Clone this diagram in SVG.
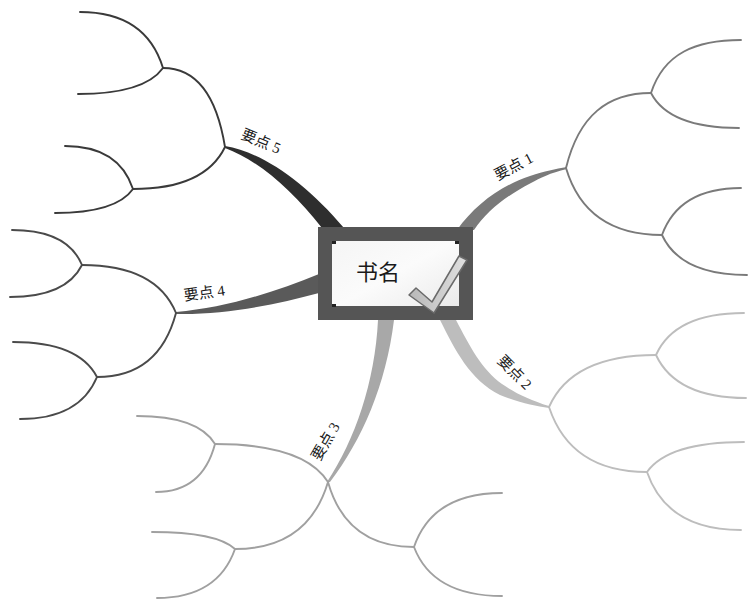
<svg xmlns="http://www.w3.org/2000/svg" width="748" height="601" viewBox="0 0 748 601">
<defs>
<linearGradient id="inner" x1="0" y1="0" x2="1" y2="1">
<stop offset="0" stop-color="#f4f4f4"/>
<stop offset="0.5" stop-color="#fbfbfb"/>
<stop offset="1" stop-color="#e8e8e8"/>
</linearGradient>
<linearGradient id="chk" x1="0" y1="0" x2="1" y2="0">
<stop offset="0" stop-color="#b8b8b8"/>
<stop offset="1" stop-color="#e0e0e0"/>
</linearGradient>
</defs>
<style>
.t{fill:none;stroke-width:1.9;stroke-linecap:round}
.b5{stroke:#3a3a3a}.b4{stroke:#4a4a4a}.b3{stroke:#a0a0a0}.b2{stroke:#bdbdbd}.b1{stroke:#7a7a7a}
.lbl{font-family:"Liberation Serif","Noto Sans CJK SC",serif;font-size:15px;fill:#1a1a1a;text-anchor:middle}
</style>
<rect width="748" height="601" fill="#ffffff"/>
<g id="connectors">
<path d="M225,146 C262,152 305,182 344,228 L322,228 C292,190 258,160 225,148 Z" fill="#2e2e2e"/>
<path d="M176,312 C225,308 275,292 319,274 L319,293 C275,305 225,315 176,314 Z" fill="#5a5a5a"/>
<path d="M378,320 C375,382 355,440 327,482 L330,482 C362,440 386,385 394,320 Z" fill="#a8a8a8"/>
<path d="M440,320 C455,350 470,380 500,395 C520,403 535,406 549,408 L549,406 C530,400 515,393 502,384 C482,370 469,345 456,320 Z" fill="#bdbdbd"/>
<path d="M457,230 C475,205 500,186 530,176 C545,171 555,169 567,167 L567,169 C550,173 540,178 531,183 C506,196 487,211 474,230 Z" fill="#7a7a7a"/>
<path class="t b5" d="M225,147 C216,92 194,68 163,68"/>
<path class="t b5" d="M225,147 C211,176 179,189 133,189"/>
<path class="t b5" d="M163,68 C151,29 122,12 80,12"/>
<path class="t b5" d="M163,68 C150,86 120,94 78,94"/>
<path class="t b5" d="M133,189 C123,159 99,146 65,146"/>
<path class="t b5" d="M133,189 C121,206 94,213 55,213"/>
<path class="t b4" d="M176,313 C162,279 129,265 82,265"/>
<path class="t b4" d="M176,313 C164,358 136,377 97,377"/>
<path class="t b4" d="M82,265 C72,241 47,230 12,230"/>
<path class="t b4" d="M82,265 C71,287 46,297 10,297"/>
<path class="t b4" d="M97,377 C84,352 55,342 13,342"/>
<path class="t b4" d="M97,377 C85,406 58,419 20,419"/>
<path class="t b3" d="M328,482 C311,455 271,444 215,444"/>
<path class="t b3" d="M328,482 C314,529 281,549 235,549"/>
<path class="t b3" d="M328,482 C341,528 371,547 414,547"/>
<path class="t b3" d="M215,444 C203,424 176,416 137,416"/>
<path class="t b3" d="M215,444 C206,478 185,492 156,492"/>
<path class="t b3" d="M235,549 C222,537 193,532 152,532"/>
<path class="t b3" d="M235,549 C223,583 196,598 157,598"/>
<path class="t b3" d="M414,547 C427,509 458,493 502,493"/>
<path class="t b3" d="M414,547 C427,581 458,596 502,596"/>
<path class="t b2" d="M549,407 C565,371 602,355 656,355"/>
<path class="t b2" d="M549,407 C564,452 598,472 647,472"/>
<path class="t b2" d="M656,355 C669,326 700,313 744,313"/>
<path class="t b2" d="M656,355 C670,385 701,398 746,398"/>
<path class="t b2" d="M647,472 C662,451 695,442 744,442"/>
<path class="t b2" d="M647,472 C661,513 694,530 741,530"/>
<path class="t b1" d="M566,168 C579,115 608,93 651,93"/>
<path class="t b1" d="M566,168 C580,215 614,235 662,235"/>
<path class="t b1" d="M651,93 C664,53 696,40 741,40"/>
<path class="t b1" d="M651,93 C664,118 695,128 739,128"/>
<path class="t b1" d="M662,235 C674,202 701,188 741,188"/>
<path class="t b1" d="M662,235 C675,263 704,275 747,275"/>
</g>
<g id="label5"><text class="lbl" transform="translate(259,146) rotate(22)">要点 5</text></g>
<g id="label4"><text class="lbl" transform="translate(205,298) rotate(-8)">要点 4</text></g>
<g id="label3"><text class="lbl" transform="translate(330,444) rotate(-60)">要点 3</text></g>
<g id="label2"><text class="lbl" transform="translate(511,376) rotate(45)">要点 2</text></g>
<g id="label1"><text class="lbl" transform="translate(516,171) rotate(-28)">要点 1</text></g>
<g id="center">
<rect x="325" y="234" width="141" height="79" fill="url(#inner)" stroke="#555" stroke-width="14"/>
<rect x="332" y="241" width="4" height="3" fill="#222"/>
<rect x="455" y="241" width="4" height="3" fill="#222"/>
<rect x="332" y="304" width="4" height="3" fill="#222"/>
<text x="378" y="280" font-family="'Liberation Serif','Noto Sans CJK SC',serif" font-size="22" fill="#1a1a1a" text-anchor="middle">书名</text>
<polygon points="409,295 416,288 432,302 459,256 467,260 434,313" fill="url(#chk)" stroke="#6a6a6a" stroke-width="1.5" stroke-linejoin="round"/>
</g>
</svg>
